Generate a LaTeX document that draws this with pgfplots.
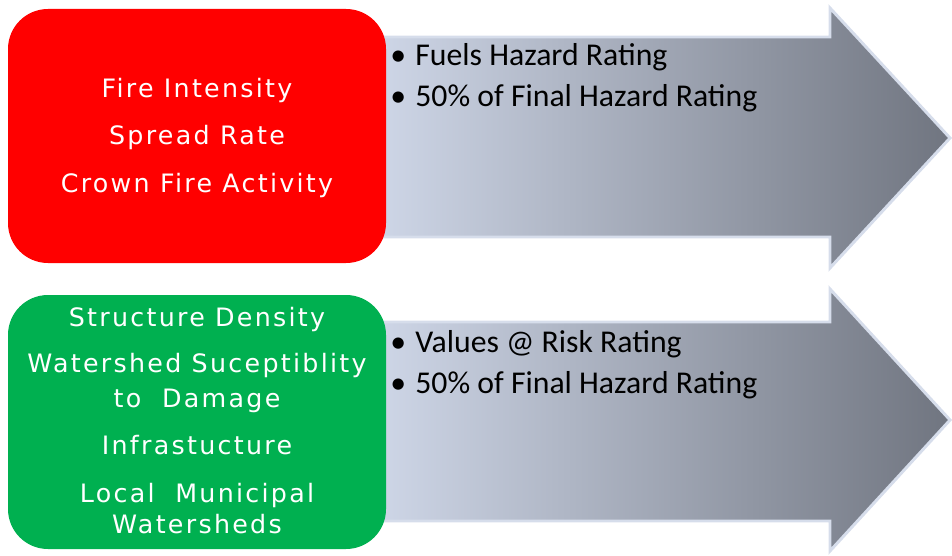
\documentclass[border=0pt]{standalone}
\usepackage{pgfplots}
\pgfplotsset{compat=1.18}
\usepackage{fontspec}
\setmainfont{DejaVu Sans}[LetterSpace=9]
\newfontfamily\calib{Carlito}
\definecolor{boxred}{RGB}{255,0,0}
\definecolor{boxgreen}{RGB}{0,176,80}
\definecolor{arrL}{RGB}{207,215,232}
\definecolor{arrR}{RGB}{112,117,128}
\definecolor{arrEdge}{RGB}{214,221,235}
\begin{document}
\begin{tikzpicture}
\begin{axis}[
  scale only axis, width=714pt, height=417pt,
  xmin=0, xmax=952, ymin=0, ymax=556, y dir=reverse,
  hide axis, clip=false,
]
\path (axis cs:0,0) rectangle (axis cs:952,556);
% arrows (outline coordinates in pixels)
\addplot[draw=arrEdge, line width=2.2pt, left color=arrL, right color=arrR, line join=miter]
  coordinates {(372,37) (830,37) (830,8) (950,138) (830,268) (830,237) (372,237)} --cycle;
\addplot[draw=arrEdge, line width=2.2pt, left color=arrL, right color=arrR, line join=miter]
  coordinates {(372,322) (830,322) (830,289) (950,420) (830,551) (830,521) (372,521)} --cycle;
% boxes
\fill[boxred, rounded corners=30pt] (axis cs:8,9) rectangle (axis cs:386,263);
\fill[boxgreen, rounded corners=30pt] (axis cs:8,295) rectangle (axis cs:386,549);
% box texts
\begin{scope}[every node/.style={anchor=base, text=white, font=\fontsize{19}{19}\selectfont}]
\node at (axis cs:197,98) {Fire Intensity};
\node at (axis cs:197,145) {Spread Rate};
\node at (axis cs:197,192) {Crown Fire Activity};
\node at (axis cs:197,326) {Structure Density};
\node at (axis cs:197,372) {Watershed Suceptiblity};
\node at (axis cs:197,407) {to\ \ Damage};
\node at (axis cs:197,454) {Infrastucture};
\node at (axis cs:197,502) {Local\ \ Municipal};
\node at (axis cs:197,533) {Watersheds};
\end{scope}
% bullets
\begin{scope}[every node/.style={anchor=base west, text=black, inner sep=0pt, font=\calib\fontsize{23.8}{23.8}\selectfont}]
\node at (axis cs:390,66) {\textbullet\hspace{7pt}Fuels Hazard Rating};
\node at (axis cs:390,107) {\textbullet\hspace{7pt}50\% of Final Hazard Rating};
\node at (axis cs:390,352) {\textbullet\hspace{7pt}Values @ Risk Rating};
\node at (axis cs:390,393) {\textbullet\hspace{7pt}50\% of Final Hazard Rating};
\end{scope}
\end{axis}
\end{tikzpicture}
\end{document}
